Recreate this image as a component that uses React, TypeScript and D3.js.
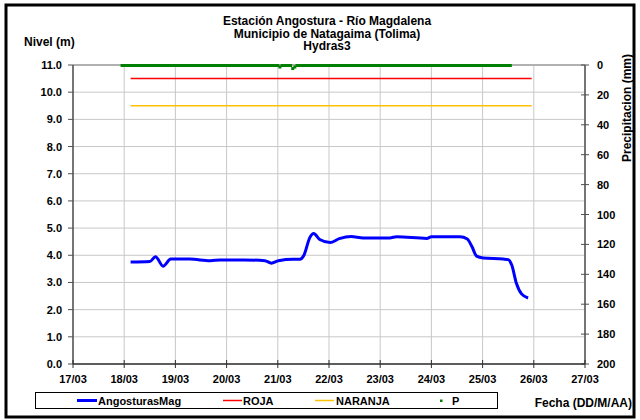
import React from "react";
import * as d3 from "d3";

const YEAR = 2010;

const LEVEL_TIMES = [
  "18/03 03:00", "18/03 12:00", "18/03 14:40", "18/03 18:15", "18/03 21:50",
  "19/03 06:45", "19/03 16:20", "19/03 21:00", "20/03 08:00", "20/03 18:00",
  "20/03 21:00", "21/03 00:15", "21/03 07:12", "21/03 10:20", "21/03 12:15",
  "21/03 15:00", "21/03 16:50", "21/03 19:40", "22/03 00:30", "22/03 04:50",
  "22/03 10:20", "22/03 16:00", "23/03 04:30", "23/03 07:40", "23/03 21:50",
  "24/03 00:00", "24/03 13:25", "24/03 16:50", "24/03 19:00", "24/03 21:10",
  "25/03 00:15", "25/03 09:35", "25/03 12:00", "25/03 13:40", "25/03 15:50",
  "25/03 18:15", "25/03 21:20",
];
const LEVEL_VALUES = [
  3.75, 3.77, 3.95, 3.6, 3.86,
  3.86, 3.8, 3.83, 3.83, 3.8,
  3.71, 3.8, 3.85, 3.85, 4.0,
  4.65, 4.8, 4.58, 4.47, 4.61,
  4.69, 4.64, 4.64, 4.68, 4.62,
  4.68, 4.68, 4.6, 4.32, 3.97,
  3.9, 3.86, 3.84, 3.64, 2.97,
  2.58, 2.43,
];

const THRESHOLD_TIMES = ["18/03 03:00", "25/03 23:00"];
const ROJA_VALUES = [10.5, 10.5];
const NARANJA_VALUES = [9.5, 9.5];

// Precipitation, hourly readings starting at P_START
const P_START = "17/03 23:00";
const P_VALUES = [
  0,
  0, 0, 0, 0, 0, 0, 0, 0, 0, 0, 0, 0, 0, 0, 0, 0, 0, 0, 0, 0, 0, 0, 0, 0,
  0, 0, 0, 0, 0, 0, 0, 0, 0, 0, 0, 0, 0, 0, 0, 0, 0, 0, 0, 0, 0, 0, 0, 0,
  0, 0, 0, 0, 0, 0, 0, 0, 0, 0, 0, 0, 0, 0, 0, 0, 0, 0, 0, 0, 0, 0, 0, 0,
  0, 1, 0, 0, 0, 0, 0, 2, 1, 0, 0, 0, 0, 0, 0, 0, 0, 0, 0, 0, 0, 0, 0, 0,
  0, 0, 0, 0, 0, 0, 0, 0, 0, 0, 0, 0, 0, 0, 0, 0, 0, 0, 0, 0, 0, 0, 0, 0,
  0, 0, 0, 0, 0, 0, 0, 0, 0, 0, 0, 0, 0, 0, 0, 0, 0, 0, 0, 0, 0, 0, 0, 0,
  0, 0, 0, 0, 0, 0, 0, 0, 0, 0, 0, 0, 0, 0, 0, 0, 0, 0, 0, 0, 0, 0, 0, 0,
  0, 0, 0, 0, 0, 0, 0, 0, 0, 0, 0, 0, 0, 0,
];

const X_TICK_LABELS = ["17/03", "18/03", "19/03", "20/03", "21/03", "22/03", "23/03", "24/03", "25/03", "26/03", "27/03"];
const LEFT_TICKS = [0, 1, 2, 3, 4, 5, 6, 7, 8, 9, 10, 11];
const RIGHT_TICKS = [0, 20, 40, 60, 80, 100, 120, 140, 160, 180, 200];

const TITLE_LINES = ["Estación Angostura - Río Magdalena", "Municipio de Natagaima (Tolima)", "Hydras3"];

const parse = d3.timeParse("%d/%m %H:%M %Y");
const toDate = (s: string) => parse(`${s} ${YEAR}`) as Date;
const dayDate = (s: string) => toDate(`${s} 00:00`);

const FONT = "'Liberation Sans', Arial, sans-serif";

export default function App() {
  const W = 640, H = 420;
  const left = 73, right = 585, top = 65, bottom = 364;

  const x = d3.scaleTime()
    .domain([dayDate(X_TICK_LABELS[0]), dayDate(X_TICK_LABELS[X_TICK_LABELS.length - 1])])
    .range([left, right]);
  const y = d3.scaleLinear().domain([0, 11]).range([bottom, top]);
  const yP = d3.scaleLinear().domain([0, 200]).range([top, bottom]);

  const levelData = LEVEL_TIMES.map((t, i) => ({ t: toDate(t), v: LEVEL_VALUES[i] }));
  const rojaData = THRESHOLD_TIMES.map((t, i) => ({ t: toDate(t), v: ROJA_VALUES[i] }));
  const naranjaData = THRESHOLD_TIMES.map((t, i) => ({ t: toDate(t), v: NARANJA_VALUES[i] }));
  const pStart = toDate(P_START);
  const pData = P_VALUES.map((v, i) => ({ t: d3.timeHour.offset(pStart, i), v }));

  const line = d3.line<{ t: Date; v: number }>()
    .x((d) => x(d.t))
    .y((d) => y(d.v))
    .curve(d3.curveMonotoneX);

  const xTicks = X_TICK_LABELS.map((l) => ({ l, d: dayDate(l) }));

  return (
    <svg width={W} height={H} style={{ position: "absolute", left: 0, top: 0, background: "#fff" }} fontFamily={FONT}>
      <rect x={0} y={0} width={W} height={H} fill="#fff" />
      {/* gridlines */}
      {LEFT_TICKS.map((t) => (
        <line key={"hg" + t} x1={left} x2={right} y1={y(t)} y2={y(t)} stroke="#c8c8c8" strokeWidth={1} />
      ))}
      {xTicks.map((t) => (
        <line key={"vg" + t.l} x1={x(t.d)} x2={x(t.d)} y1={top} y2={bottom} stroke="#c8c8c8" strokeWidth={1} />
      ))}
      <line x1={left} x2={right} y1={top} y2={top} stroke="#a0a0a0" strokeWidth={1.5} />

      {/* thresholds */}
      <path d={line(rojaData) || ""} fill="none" stroke="#ff0000" strokeWidth={1.5} />
      <path d={line(naranjaData) || ""} fill="none" stroke="#ffc000" strokeWidth={1.5} />

      {/* level */}
      <path d={line(levelData) || ""} fill="none" stroke="#0000ff" strokeWidth={3} strokeLinejoin="round" />

      {/* precipitation markers */}
      {pData.map((d, i) => (
        <rect key={"p" + i} x={x(d.t) - 1.5} y={yP(d.v) - 1} width={3} height={3} fill="#008000" />
      ))}

      {/* axes */}
      <line x1={left} x2={left} y1={top} y2={bottom} stroke="#505050" strokeWidth={1.5} />
      {LEFT_TICKS.map((t) => (
        <g key={"lt" + t}>
          <line x1={left - 5} x2={left} y1={y(t)} y2={y(t)} stroke="#505050" strokeWidth={1} />
          <text x={62} y={y(t) + 4} textAnchor="end" fontSize={11} fontWeight="bold" fill="#000">{t.toFixed(1)}</text>
        </g>
      ))}
      <line x1={right} x2={right} y1={top} y2={bottom} stroke="#505050" strokeWidth={1.5} />
      {RIGHT_TICKS.map((t) => (
        <g key={"rt" + t}>
          <line x1={right - 4} x2={right + 4} y1={yP(t)} y2={yP(t)} stroke="#505050" strokeWidth={1} />
          <text x={597} y={yP(t) + 4} textAnchor="start" fontSize={11} fontWeight="bold" fill="#000">{t}</text>
        </g>
      ))}
      <line x1={left} x2={right} y1={bottom} y2={bottom} stroke="#303030" strokeWidth={1.5} />
      {xTicks.map((t) => (
        <g key={"xt" + t.l}>
          <line x1={x(t.d)} x2={x(t.d)} y1={bottom - 4} y2={bottom + 4} stroke="#303030" strokeWidth={1} />
          <text x={x(t.d)} y={383} textAnchor="middle" fontSize={11} fontWeight="bold" fill="#000">{t.l}</text>
        </g>
      ))}

      {/* titles */}
      {TITLE_LINES.map((l, i) => (
        <text key={"ti" + i} x={327} y={25 + i * 12.5} textAnchor="middle" fontSize={12} fontWeight="bold" fill="#000">{l}</text>
      ))}
      <text x={24} y={46} fontSize={12} fontWeight="bold" fill="#000">Nivel (m)</text>
      <text transform={`translate(631,108) rotate(-90)`} textAnchor="middle" fontSize={12} fontWeight="bold" fill="#000">Precipitacion (mm)</text>
      <text x={632} y={407} textAnchor="end" fontSize={12} fontWeight="bold" fill="#000">Fecha (DD/M/AA)</text>

      {/* legend */}
      <rect x={35.5} y={392.5} width={462} height={16} fill="#fff" stroke="#000" strokeWidth={1} />
      <line x1={77} x2={97} y1={400.5} y2={400.5} stroke="#0000ff" strokeWidth={3} />
      <text x={98} y={405} fontSize={11} fontWeight="bold" fill="#000">AngosturasMag</text>
      <line x1={223} x2={242} y1={400.5} y2={400.5} stroke="#ff0000" strokeWidth={1.5} />
      <text x={243} y={405} fontSize={11} fontWeight="bold" fill="#000">ROJA</text>
      <line x1={315} x2={334} y1={400.5} y2={400.5} stroke="#ffc000" strokeWidth={1.5} />
      <text x={336} y={405} fontSize={11} fontWeight="bold" fill="#000">NARANJA</text>
      <rect x={440} y={399.5} width={2.5} height={2.5} fill="#008000" />
      <text x={452} y={405} fontSize={11} fontWeight="bold" fill="#000">P</text>

      {/* outer border */}
      <rect x={6} y={5} width={628} height={412} fill="none" stroke="#000" strokeWidth={3} />
    </svg>
  );
}
